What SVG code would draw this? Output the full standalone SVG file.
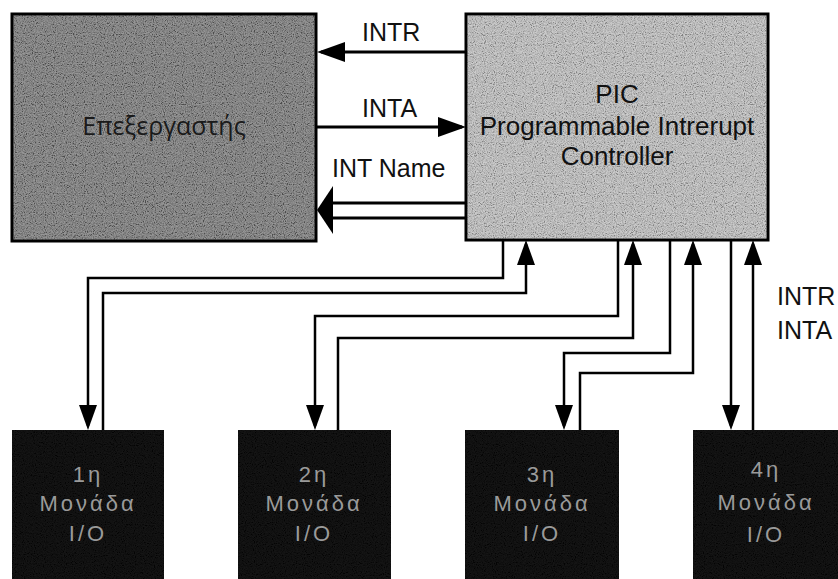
<svg xmlns="http://www.w3.org/2000/svg" width="838" height="579" viewBox="0 0 838 579">
<style>
.lbl{font-family:"Liberation Sans",Arial,sans-serif;font-size:25px;fill:#111}
.pic{font-family:"Liberation Sans",Arial,sans-serif;font-size:26px;fill:#111;text-anchor:middle}
.cpu{font-family:"Open Sans","Liberation Sans",sans-serif;font-size:25px;fill:#1a1a1a;text-anchor:middle}
.io{font-family:"Liberation Sans",Arial,sans-serif;font-size:22px;fill:#9a9a9a;text-anchor:middle;letter-spacing:3px}
.w{fill:none;stroke:#000;stroke-width:3}
.wb{fill:none;stroke:#000;stroke-width:2.5}
.box{stroke:#000;stroke-width:3}
.grain{filter:url(#noise)}
.iog{filter:url(#noise);opacity:0.22}
</style>
<defs>
<filter id="noise" x="0" y="0" width="100%" height="100%">
<feTurbulence type="fractalNoise" baseFrequency="0.9" numOctaves="2" seed="4" result="t"/>
<feColorMatrix in="t" type="saturate" values="0" result="g"/>
<feComponentTransfer in="g" result="a">
<feFuncR type="linear" slope="3" intercept="-1"/>
<feFuncG type="linear" slope="3" intercept="-1"/>
<feFuncB type="linear" slope="3" intercept="-1"/>
<feFuncA type="table" tableValues="0.3 0.3"/>
</feComponentTransfer>
<feComposite in="a" in2="SourceGraphic" operator="in"/>
</filter>
<marker id="ah" markerUnits="userSpaceOnUse" viewBox="0 0 28 20" markerWidth="28" markerHeight="20" refX="24" refY="10" orient="auto">
<path d="M0,0 L28,10 L0,20 Z" fill="#000"/>
</marker>
<marker id="av" markerUnits="userSpaceOnUse" viewBox="0 0 25 18" markerWidth="25" markerHeight="18" refX="21" refY="9" orient="auto">
<path d="M0,0 L25,9 L0,18 Z" fill="#000"/>
</marker>
</defs>
<rect width="838" height="579" fill="#fff"/>

<g id="cpu">
<rect class="box" x="12" y="14" width="304" height="227" fill="#6c6c6c"/>
<rect class="grain" x="13.5" y="15.5" width="301" height="224" fill="#fff"/>
<text class="cpu" x="164" y="135">Επεξεργαστής</text>
</g>

<g id="pic">
<rect class="box" x="466" y="14" width="302" height="226" fill="#b9b9b9"/>
<rect class="grain" x="467.5" y="15.5" width="299" height="223" fill="#fff"/>
<text class="pic" x="617" y="103">PIC</text>
<text class="pic" x="617" y="135">Programmable Intrerupt</text>
<text class="pic" x="617" y="165">Controller</text>
</g>

<g id="io1">
<rect x="12" y="430" width="152" height="152" fill="#050505"/>
<rect class="iog" x="12" y="430" width="152" height="152" fill="#fff"/>
<text class="io" x="88" y="482">1η</text>
<text class="io" x="88" y="511">Μονάδα</text>
<text class="io" x="88" y="541">I/O</text>
</g>
<g id="io2">
<rect x="238" y="430" width="153" height="152" fill="#050505"/>
<rect class="iog" x="238" y="430" width="153" height="152" fill="#fff"/>
<text class="io" x="314" y="482">2η</text>
<text class="io" x="314" y="511">Μονάδα</text>
<text class="io" x="314" y="541">I/O</text>
</g>
<g id="io3">
<rect x="465" y="430" width="154" height="152" fill="#050505"/>
<rect class="iog" x="465" y="430" width="154" height="152" fill="#fff"/>
<text class="io" x="542" y="482">3η</text>
<text class="io" x="542" y="511">Μονάδα</text>
<text class="io" x="542" y="541">I/O</text>
</g>
<g id="io4">
<rect x="693" y="430" width="148" height="152" fill="#050505"/>
<rect class="iog" x="693" y="430" width="148" height="152" fill="#fff"/>
<text class="io" x="766" y="477">4η</text>
<text class="io" x="766" y="510">Μονάδα</text>
<text class="io" x="766" y="542">I/O</text>
</g>

<g id="connectors">
<path class="w" d="M466,52 H321" marker-end="url(#ah)"/>
<path class="w" d="M316,127 H462" marker-end="url(#ah)"/>
<path class="w" d="M466,203 H330"/>
<path class="w" d="M466,218 H330"/>
<path d="M333,186 L317,210 L333,234 Z" fill="#000"/>
<path class="wb" d="M503,240 V278 H88 V426" marker-end="url(#av)"/>
<path class="wb" d="M103,430 V293 H526 V244" marker-end="url(#av)"/>
<path class="wb" d="M618,240 V316 H315 V426" marker-end="url(#av)"/>
<path class="wb" d="M338,430 V338 H633 V244" marker-end="url(#av)"/>
<path class="wb" d="M670,240 V353 H564 V426" marker-end="url(#av)"/>
<path class="wb" d="M580,430 V373 H693 V244" marker-end="url(#av)"/>
<path class="wb" d="M731,240 V426" marker-end="url(#av)"/>
<path class="wb" d="M753,430 V244" marker-end="url(#av)"/>
</g>

<g id="labels">
<text class="lbl" x="362" y="41">INTR</text>
<text class="lbl" x="362" y="117">INTA</text>
<text class="lbl" x="332" y="177">INT Name</text>
<text class="lbl" x="777" y="305">INTR</text>
<text class="lbl" x="777" y="339">INTA</text>
</g>
</svg>
